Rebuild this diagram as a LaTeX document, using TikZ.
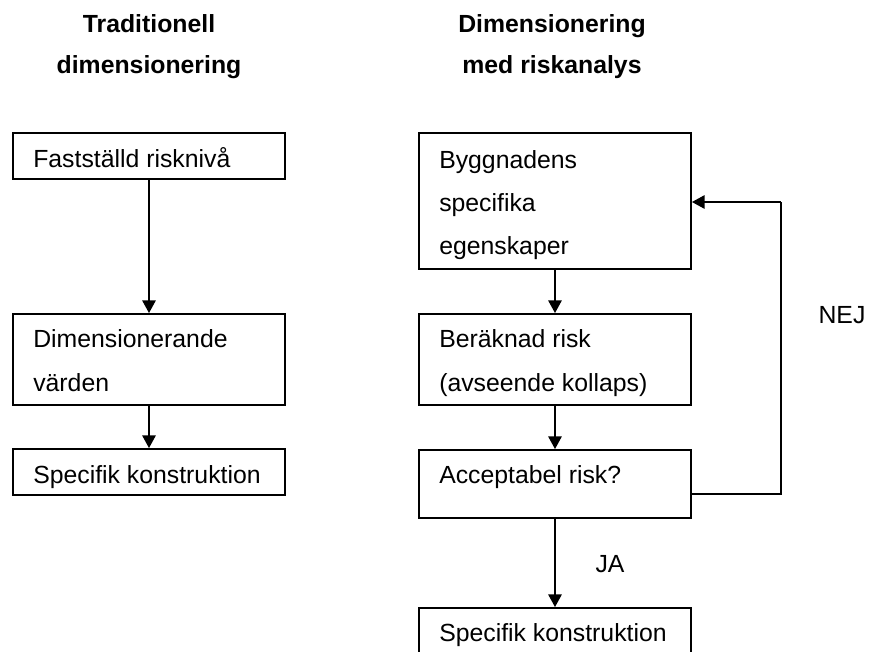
\documentclass[tikz,border=0pt]{standalone}
\usepackage{fontspec}
\setmainfont{Liberation Sans}
\usetikzlibrary{arrows.meta}
\begin{document}
\begin{tikzpicture}[x=0.75pt,y=-0.75pt,
  box/.style={draw,line width=1.4pt,rectangle,inner sep=0pt},
  txt/.style={anchor=base west,inner sep=0pt,font=\fontsize{18.6}{22}\selectfont},
  ttl/.style={anchor=base,inner sep=0pt,font=\fontsize{18.6}{22}\selectfont\bfseries},
  lbl/.style={anchor=base,inner sep=0pt,font=\fontsize{18.6}{22}\selectfont},
  arr/.style={line width=1.4pt,-{Triangle[length=9.5pt,width=10pt]}},
  ln/.style={line width=1.4pt}]
\clip (0,0) rectangle (869,651);
\fill[white] (0,0) rectangle (869,651);
% titles
\node[ttl] (t1a) at (149,32) {Traditionell};
\node[ttl] (t1b) at (149,73) {dimensionering};
\node[ttl] (t2a) at (552,32) {Dimensionering};
\node[ttl] (t2b) at (552,73) {med riskanalys};
% left boxes
\node[box,minimum width=204pt,minimum height=34.5pt] (L1) at (149,156) {};
\node[box,minimum width=204pt,minimum height=68.25pt] (L2) at (149,359.5) {};
\node[box,minimum width=204pt,minimum height=34.5pt] (L3) at (149,472) {};
\node[txt] (L1t) at (33,167) {Fastställd risknivå};
\node[txt] (L2t) at (33,347) {Dimensionerande};
\node[txt] (L2u) at (33,391) {värden};
\node[txt] (L3t) at (33,483) {Specifik konstruktion};
% right boxes
\node[box,minimum width=204pt,minimum height=102pt] (R1) at (555,201) {};
\node[box,minimum width=204pt,minimum height=68.25pt] (R2) at (555,359.5) {};
\node[box,minimum width=204pt,minimum height=51pt] (R3) at (555,484) {};
\node[box,minimum width=204pt,minimum height=36pt] (R4) at (555,632) {};
\node[txt] (R1t) at (439,168) {Byggnadens};
\node[txt] (R1u) at (439,211) {specifika};
\node[txt] (R1v) at (439,254) {egenskaper};
\node[txt] (R2t) at (439,347) {Beräknad risk};
\node[txt] (R2u) at (439,391) {(avseende kollaps)};
\node[txt] (R3t) at (439,483) {Acceptabel risk?};
\node[txt] (R4t) at (439,641) {Specifik konstruktion};
% connectors
\draw[arr] (L1.south) -- (L2.north);
\draw[arr] (L2.south) -- (L3.north);
\draw[arr] (R1.south) -- (R2.north);
\draw[arr] (R2.south) -- (R3.north);
\draw[arr] (R3.south) -- (R4.north);
\coordinate (fbA) at (781,494);
\coordinate (fbB) at (781,202);
\draw[ln] (R3.east |- fbA) -- (fbA) -- (fbB);
\draw[arr] (fbB) -- (R1.east |- fbB);
% labels
\node[lbl] (ja) at (610,572) {JA};
\node[lbl] (nej) at (842,323) {NEJ};
\end{tikzpicture}
\end{document}
